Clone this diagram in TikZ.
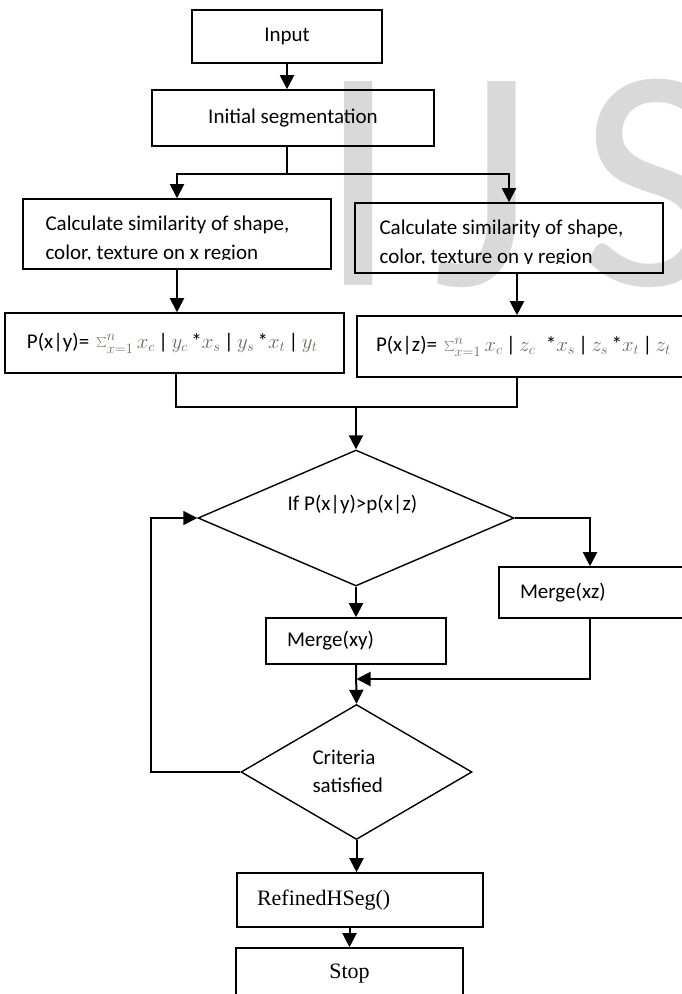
\documentclass[tikz,border=0pt]{standalone}
\usepackage{fontspec}
\setmainfont{Carlito}
\newfontfamily\bookfont{Liberation Serif}
\usetikzlibrary{shapes.geometric,arrows.meta}
\definecolor{wmgray}{RGB}{217,217,217}
\definecolor{fmlgray}{RGB}{105,105,95}
\newcommand{\fml}[1]{{\color{fmlgray}\fontsize{20.74}{22}\selectfont$#1$}}
\tikzset{
  procbox/.style={draw, line width=1.6pt, inner sep=0pt},
  decbox/.style={draw, diamond, line width=1.4pt, inner sep=0pt},
  flow/.style={line width=2pt, -{Triangle[length=14pt,width=14pt]}},
  link/.style={line width=1.5pt},
}
\begin{document}
\begin{tikzpicture}[x=1pt, y=-1pt, font=\fontsize{21}{29}\selectfont]
  \useasboundingbox (0,0) rectangle (681,994);
  % watermark
  \node[anchor=base west, inner sep=0pt, text=wmgray,
        font=\fontsize{318}{318}\selectfont] (wm) at (318,285) {I\kern34pt J\kern46pt S};

  % boxes
  \node[procbox, minimum width=190pt, minimum height=53pt] (input) at (287,36.5) {Input};
  \node[procbox, minimum width=282pt, minimum height=56pt] (initseg) at (293,118) {Initial segmentation};
  \node[procbox, minimum width=308pt, minimum height=70pt] (simx) at (177,234) {};
  \node[procbox, minimum width=308pt, minimum height=70pt] (simy) at (509,238) {};
  \node[procbox, minimum height=60pt, inner xsep=22pt, text width=295pt, align=left] (probxy) at (174.5,343)
    {P(x|y)= \fml{\sum_{x=1}^{n}x_c\,}|\fml{\,y_c\,}*\fml{x_s\,}|\fml{\,y_s\,}*\fml{x_t\,}|\fml{\,y_t}};
  \node[procbox, minimum height=61pt, inner xsep=19pt, text width=305pt, align=left] (probxz) at (528.5,346.5)
    {P(x|z)= \fml{\sum_{x=1}^{n}x_c\,}|\fml{\,z_c\,} *\fml{x_s\,}|\fml{\,z_s\,}*\fml{x_t\,}|\fml{\,z_t}};
  \node[decbox, minimum width=316pt, minimum height=136pt] (dec1) at (356,518) {};
  \node (dec1txt) at (352.5,505) {If P(x|y)>p(x|z)};
  \node[procbox, minimum height=51pt, inner xsep=21pt, text width=159pt, align=left] (mergexz) at (599.5,592.5) {Merge(xz)};
  \node[procbox, minimum height=46pt, inner xsep=21pt, text width=138pt, align=left] (mergexy) at (356,641) {Merge(xy)};
  \node[decbox, minimum width=231pt, minimum height=135pt] (dec2) at (356.5,772) {};
  \node[anchor=west, align=left, font=\fontsize{21}{28}\selectfont] (dec2txt) at (309,771) {Criteria\\satisfied};
  \node[procbox, minimum height=54pt, inner xsep=20pt, text width=206pt, align=left,
        font=\bookfont\fontsize{22}{26}\selectfont] (refined) at (360,900) {RefinedHSeg()};
  \node[procbox, minimum width=227pt, minimum height=52pt,
        font=\bookfont\fontsize{22}{26}\selectfont] (stop) at (349.5,974) {Stop};

  % box texts, cut off at the lower line
  \node[anchor=base west] (simx1) at (42,230) {Calculate similarity of shape,};
  \node[anchor=base west] (simy1) at (376,234) {Calculate similarity of shape,};
  \begin{scope}
    \clip (23,199) rectangle (331,259.5);
    \node[anchor=base west] (simx2) at (42,259) {color, texture on x region};
  \end{scope}
  \begin{scope}
    \clip (355,203) rectangle (663,263.5);
    \node[anchor=base west] (simy2) at (376,263) {color, texture on y region};
  \end{scope}

  % connectors
  \coordinate (split) at (287,174);
  \coordinate (jl) at (176,407);
  \coordinate (jr) at (517,407);
  \coordinate (join) at (356,407);
  \coordinate (rb) at (590,518);
  \coordinate (rj) at (590,679);
  \coordinate (lp) at (151,772);
  \draw[flow] (input.south) -- (input.south |- initseg.north);
  \draw[link] (initseg.south -| split) -- (split);
  \draw[flow] (split) -| (simx.north);
  \draw[flow] (split) -| (simy.north);
  \draw[flow] (simx.south) -- (simx.south |- probxy.north);
  \draw[flow] (simy.south -| jr) -- (probxz.north -| jr);
  \draw[link] (probxy.south -| jl) -- (jl) -- (jr) -- (probxz.south -| jr);
  \draw[flow] (join) -- (dec1.north);
  \draw[flow] (dec1.east) -- (rb) -- (rb |- mergexz.north);
  \draw[flow] (dec1.south) -- (mergexy.north);
  \draw[flow] (mergexy.south) -- (dec2.north);
  \draw[flow] (mergexz.south -| rj) -- (rj) -- (rj -| dec2.north);
  \draw[flow, line width=1.5pt] (dec2.west) -- (lp) -- (lp |- dec1.west) -- (dec1.west);
  \draw[flow] (dec2.south) -- (dec2.south |- refined.north);
  \draw[flow] (refined.south -| stop.north) -- (stop.north);
\end{tikzpicture}
\end{document}
